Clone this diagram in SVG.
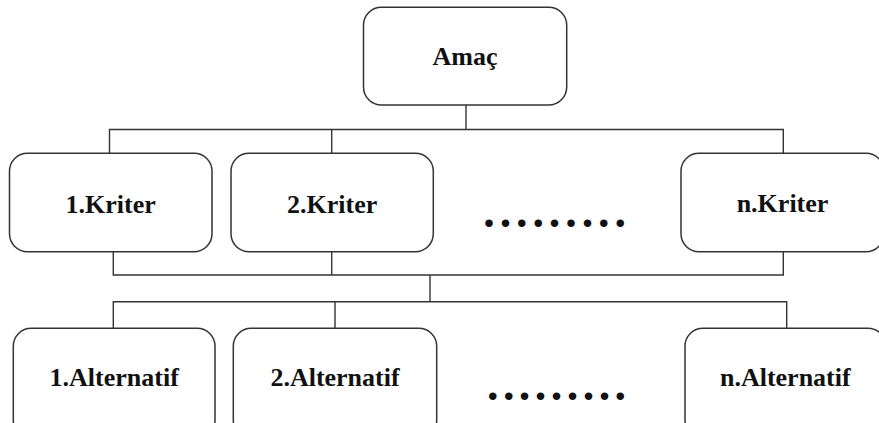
<svg xmlns="http://www.w3.org/2000/svg" width="879" height="423" viewBox="0 0 879 423">
  <style>
    .box { fill: #ffffff; stroke: #333333; stroke-width: 1.5; }
    .link { fill: none; stroke: #333333; stroke-width: 1.4; }
    .label { font-weight: 700; font-size: 26px; fill: #111111; text-anchor: middle; }
    .dots { font-weight: 700; font-size: 46px; fill: #111111; text-anchor: middle; }
  </style>
  <rect width="879" height="423" fill="#ffffff"/>

  <!-- connectors -->
  <g id="connectors">
    <path class="link" d="M466,105 V129.5"/>
    <path class="link" d="M109.5,153 V129.5 H783.3 V153"/>
    <path class="link" d="M331.7,129.5 V153"/>
    <path class="link" d="M113.3,252 V275 H783.3 V252"/>
    <path class="link" d="M331.7,252 V275"/>
    <path class="link" d="M430,275 V301.7"/>
    <path class="link" d="M113.3,328 V301.7 H786.7 V328"/>
    <path class="link" d="M335,301.7 V328"/>
  </g>

  <g font-family="Liberation Serif, Times New Roman, DejaVu Serif, serif">
    <!-- goal -->
    <g id="amac">
      <rect class="box" x="363.5" y="7.3" width="203.2" height="97.7" rx="18" ry="18"/>
      <text class="label" x="465" y="65">Amaç</text>
    </g>

    <!-- criteria -->
    <g id="kriter-1">
      <rect class="box" x="9.5" y="153.3" width="202.5" height="98.4" rx="18" ry="18"/>
      <text class="label" x="110.7" y="212.7">1.Kriter</text>
    </g>
    <g id="kriter-2">
      <rect class="box" x="231" y="153.3" width="202.3" height="98.4" rx="18" ry="18"/>
      <text class="label" x="332.2" y="212.7">2.Kriter</text>
    </g>
    <g id="kriter-dots">
      <text class="dots" y="227" x="489 505.4 521.8 538.2 554.6 571 587.4 603.8 620.2">.........</text>
    </g>
    <g id="kriter-n">
      <rect class="box" x="681" y="153.3" width="203" height="98.4" rx="18" ry="18"/>
      <text class="label" x="782.5" y="212">n.Kriter</text>
    </g>

    <!-- alternatives -->
    <g id="alternatif-1">
      <rect class="box" x="13.3" y="328.3" width="201.7" height="110" rx="18" ry="18"/>
      <text class="label" x="114.2" y="386">1.Alternatif</text>
    </g>
    <g id="alternatif-2">
      <rect class="box" x="233.3" y="328.3" width="203.4" height="110" rx="18" ry="18"/>
      <text class="label" x="335" y="386">2.Alternatif</text>
    </g>
    <g id="alternatif-dots">
      <text class="dots" y="400" x="492.7 508.7 524.6 540.6 556.5 572.5 588.4 604.4 620.3">.........</text>
    </g>
    <g id="alternatif-n">
      <rect class="box" x="685" y="328.3" width="201" height="110" rx="18" ry="18"/>
      <text class="label" x="785.3" y="386">n.Alternatif</text>
    </g>
  </g>
</svg>
